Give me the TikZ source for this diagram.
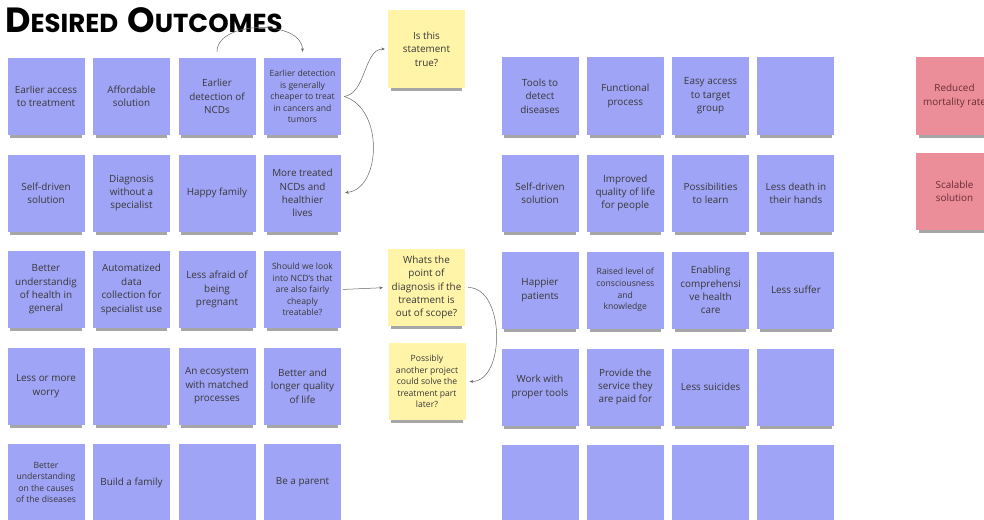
\documentclass[tikz,border=0pt]{standalone}
\usepackage{fontspec}
\setmainfont{Open Sans}
\newfontfamily\titlefont{Poppins}
\usetikzlibrary{arrows.meta,shadows}
\definecolor{noteblue}{HTML}{A0A4F6}
\definecolor{noteyellow}{HTML}{FFF4A8}
\definecolor{notered}{HTML}{EC8E9A}
\definecolor{redtext}{HTML}{6A2C35}
\newcommand\titlebig[1]{{\fontsize{35}{35}\selectfont #1}}
\newcommand\titlesmall[1]{{\fontsize{26}{26}\selectfont #1}}
\tikzset{
	every note/.style={
		rectangle,
		minimum size=77pt,
		inner sep=1pt,
		align=center,
		text=black!78,
		font=\fontsize{9.9}{13.4}\selectfont,
		drop shadow={shadow xshift=0pt, shadow yshift=-6.5pt, shadow scale=0.93, opacity=0.35, fill=black}
	},
	note blue/.style={fill=noteblue},
	note yellow/.style={fill=noteyellow},
	note red/.style={fill=notered, text=redtext},
	note small/.style={font=\fontsize{8.6}{11.6}\selectfont},
	link/.style={
		->,
		draw=black!60,
		line width=0.5pt,
		>={Stealth[length=3.5pt, width=3pt]}
	},
}

\begin{document}
\begin{tikzpicture}[x=1pt, y=1pt]
\useasboundingbox [fill=white] (0,0) rectangle (984,-519);

\node [anchor=base west, inner sep=0pt] (title) at (5,-33)
	{\titlefont\bfseries\titlebig{D}\titlesmall{ESIRED}\hspace{9pt}\titlebig{O}\titlesmall{UTCOMES}};

% left board
\foreach \s/\l [count=\c] in {big/{Earlier access\\to treatment}, big/{Affordable\\solution}, big/{Earlier\\detection of\\NCDs}, small/{Earlier detection\\is generally\\cheaper to treat\\in cancers and\\tumors}}
	\node [every note/.try, note blue, note \s/.try] (left-1-\c) at ({46+85.5*(\c-1)},-96.5) {\l};

\foreach \s/\l [count=\c] in {big/{Self-driven\\solution}, big/{Diagnosis\\without a\\specialist}, big/{Happy family}, big/{More treated\\NCDs and\\healthier\\lives}}
	\node [every note/.try, note blue, note \s/.try] (left-2-\c) at ({46+85.5*(\c-1)},-193) {\l};

\foreach \s/\l [count=\c] in {big/{Better\\understandig\\of health in\\general}, big/{Automatized\\data\\collection for\\specialist use}, big/{Less afraid of\\being\\pregnant}, small/{Should we look\\into NCD's that\\are also fairly\\cheaply\\treatable?}}
	\node [every note/.try, note blue, note \s/.try] (left-3-\c) at ({46+85.5*(\c-1)},-289.5) {\l};

\foreach \s/\l [count=\c] in {big/{Less or more\\worry}, big/{}, big/{An ecosystem\\with matched\\processes}, big/{Better and\\longer quality\\of life}}
	\node [every note/.try, note blue, note \s/.try] (left-4-\c) at ({46+85.5*(\c-1)},-386) {\l};

\foreach \s/\l [count=\c] in {small/{Better\\understanding\\on the causes\\of the diseases}, big/{Build a family}, big/{}, big/{Be a parent}}
	\node [every note/.try, note blue, note \s/.try] (left-5-\c) at ({46+85.5*(\c-1)},-482.5) {\l};

% questions
\node [every note/.try, note yellow] (question-1) at (426.5,-49) {Is this\\statement\\true?};
\node [every note/.try, note yellow] (question-2) at (426.5,-287.5) {Whats the\\point of\\diagnosis if the\\treatment is\\out of scope?};
\node [every note/.try, note yellow, note small] (question-3) at (427,-381.5) {Possibly\\another project\\could solve the\\treatment part\\later?};

% right board
\foreach \s/\l [count=\c] in {big/{Tools to\\detect\\diseases}, big/{Functional\\process}, big/{Easy access\\to target\\group}, big/{}}
	\node [every note/.try, note blue, note \s/.try] (right-1-\c) at ({540+85.3*(\c-1)},-96) {\l};

\foreach \s/\l [count=\c] in {big/{Self-driven\\solution}, big/{Improved\\quality of life\\for people}, big/{Possibilities\\to learn}, big/{Less death in\\their hands}}
	\node [every note/.try, note blue, note \s/.try] (right-2-\c) at ({540+85.3*(\c-1)},-193) {\l};

\foreach \s/\l [count=\c] in {big/{Happier\\patients}, small/{Raised level of\\consciousness\\and\\knowledge}, big/{Enabling\\comprehensi\\ve health\\care}, big/{Less suffer}}
	\node [every note/.try, note blue, note \s/.try] (right-3-\c) at ({540+85.3*(\c-1)},-290) {\l};

\foreach \s/\l [count=\c] in {big/{Work with\\proper tools}, big/{Provide the\\service they\\are paid for}, big/{Less suicides}, big/{}}
	\node [every note/.try, note blue, note \s/.try] (right-4-\c) at ({540+85.3*(\c-1)},-387) {\l};

\foreach \c in {1,...,4}
	\node [every note/.try, note blue] (right-5-\c) at ({540+85.3*(\c-1)},-483.5) {};

% goals
\foreach \l [count=\i] in {{Reduced\\mortality rate}, {Scalable\\solution}}
	\node [every note/.try, note red] (goal-\i) at (954.5,{-96-95.5*(\i-1)}) {\l};

% links
\draw [link, shorten <=6pt, shorten >=6pt] (left-1-3.north)
	.. controls +(0,38) and +(0,38) .. (left-1-4.north);

\coordinate (split) at ([xshift=3pt] left-1-4.east);
\draw [link, shorten >=3pt] (split)
	.. controls +(22,3) and +(-24,0) .. (question-1.west);
\draw [link, shorten >=4pt] (split)
	.. controls +(40,-12) and +(40,4) .. (left-2-4.east);

\draw [link, shorten <=2pt, shorten >=5pt] (left-3-4.east) -- (question-2.west);

\draw [link, shorten <=3pt, shorten >=4pt] (question-2.east)
	.. controls +(40,0) and +(40,0) .. (question-3.east);

\end{tikzpicture}
\end{document}
